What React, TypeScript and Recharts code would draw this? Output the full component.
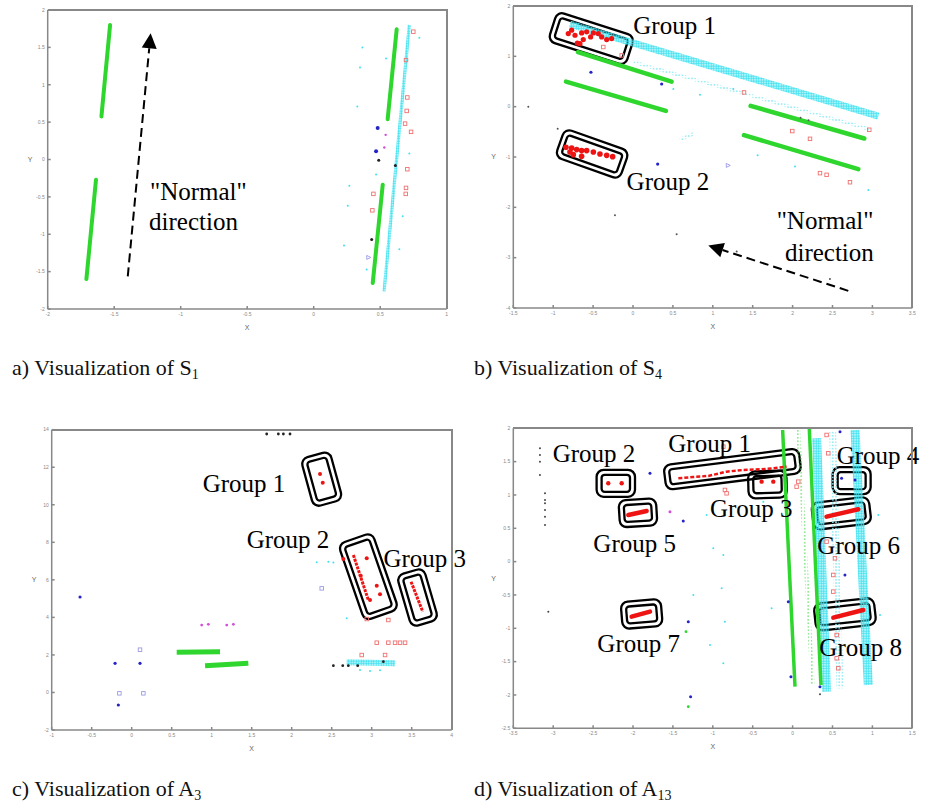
import React from 'react';
import { ScatterChart, Scatter, XAxis, YAxis, ReferenceLine, ReferenceDot } from 'recharts';

const SERIF = '"Liberation Serif", "Times New Roman", serif';
const SANS = '"Liberation Sans", Arial, sans-serif';
const GREEN = '#2ed62e';
const CYAN = '#3fe2f0';
const RED = '#ee1414';
const PALE_RED = '#f07070';
const BLUE = '#2424c8';
const BLACK = '#222';
const MAGENTA = '#d050d8';
const LILAC = '#9a9ae6';
const FRAME = '#888';
const Y_AXIS_W = 40;
const X_AXIS_H = 21;

// ---- a) S1 ----
const s1XTicks = [-2, -1.5, -1, -0.5, 0, 0.5, 1];
const s1YTicks = [-2, -1.5, -1, -0.5, 0, 0.5, 1, 1.5, 2];
const s1Green = [
  [[-1.531, 1.8], [-1.596, 0.575]],
  [[-1.637, -0.272], [-1.709, -1.599]],
  [[0.624, 1.742], [0.556, 0.539]],
  [[0.519, -0.338], [0.444, -1.653]],
];
const s1CyanBand = [[[0.719, 1.8], [0.529, -1.764]]];
const s1Cyan = [
  [0.366, 1.5], [0.348, 1.23], [0.328, 0.71], [0.268, -0.35], [0.256, -0.62], [0.228, -1.15],
  [0.544, 1.35], [0.644, -1.2], [0.794, 1.63], [0.669, -0.76], [0.469, -0.2], [0.398, -1.47], [0.719, 0.08],
];
const s1Red = [
  [0.749, 1.71], [0.694, 1.33], [0.704, 0.83], [0.699, 0.65], [0.687, 0.48], [0.732, 0.37],
  [0.704, -0.13], [0.694, -0.38], [0.692, -0.46], [0.449, -0.46], [0.441, -0.68],
];
const s1Blue = [[0.481, 0.42], [0.469, 0.11]];
const s1BlueTri = [[0.414, -1.31]];
const s1Black = [[0.436, -1.07], [0.489, -0.01], [0.614, -0.08]];
const s1Magenta = [[0.541, 0.33], [0.531, 0.16]];
const s1Arrow = [[-1.398, -1.563], [-1.226, 1.688]];
const s1Text = ['"Normal"', 'direction'];
const s1TextPos = [[-1.231, -0.539], [-1.238, -0.94]];

// ---- b) S4 ----
const s4XTicks = [-1.5, -1, -0.5, 0, 0.5, 1, 1.5, 2, 2.5, 3, 3.5];
const s4YTicks = [-4, -3, -2, -1, 0, 1, 2];
const s4Green = [
  [[-0.84, 0.497], [0.413, -0.085]],
  [[-0.69, 1.085], [0.484, 0.497]],
  [[1.474, 0.016], [2.898, -0.633]],
  [[1.391, -0.566], [2.823, -1.241]],
];
const s4CyanMain = [[[-0.79, 1.639], [3.074, -0.186]]];
const s4CyanThin = [
  [[0.004, 0.884], [2.97, -0.452]],
  [[0.589, -0.653], [0.756, -0.539]],
];
const s4Cyan = [
  [1.562, -0.967], [2.03, -1.187], [2.949, -1.655], [0.505, 0.35], [0.839, 0.236], [1.257, 0.35],
];
const s4Group1 = [
  [-0.811, 1.452], [-0.769, 1.519], [-0.727, 1.419], [-0.698, 1.265], [-0.644, 1.466], [-0.581, 1.486],
  [-0.531, 1.385], [-0.497, 1.466], [-0.435, 1.452], [-0.393, 1.385], [-0.33, 1.332], [-0.268, 1.352],
  [-0.623, 1.332], [-0.665, 1.252],
];
const s4Group2 = [
  [-0.84, -0.806], [-0.769, -0.82], [-0.706, -0.853], [-0.644, -0.873], [-0.581, -0.873], [-0.497, -0.9],
  [-0.414, -0.94], [-0.33, -0.967], [-0.255, -0.993], [-0.748, -0.953], [-0.644, -0.987], [-0.79, -0.9],
];
const s4Red = [
  [-0.372, 1.185], [-0.142, 1.018], [1.391, 0.283], [1.996, -0.485], [2.218, -0.639],
  [2.343, -1.321], [2.426, -1.354], [2.719, -1.501], [2.961, -0.459],
];
const s4Blue = [[-0.527, 0.684], [0.359, 0.45], [0.309, -1.14]];
const s4BlueTri = [[1.194, -1.167]];
const s4Black = [
  [-0.226, -2.156], [0.547, -2.537], [1.299, -2.877], [2.468, -3.425], [-0.944, -0.439], [-1.312, -0.004],
  [2.1, -0.22], [2.2, -0.27],
];
const s4Boxes = [
  [[-1.007, 1.599], [-0.038, 1.105]],
  [[-0.915, -0.713], [-0.109, -1.167]],
];
const s4Arrow = [[2.698, -3.659], [0.944, -2.757]];
const s4Text = ['Group 1', 'Group 2', '"Normal"', 'direction'];
const s4TextPos = [[0.004, 1.452], [-0.08, -1.655], [1.8, -2.423], [1.904, -3.058]];

// ---- c) A3 ----
const a3XTicks = [-1, -0.5, 0, 0.5, 1, 1.5, 2, 2.5, 3, 3.5, 4];
const a3YTicks = [-2, 0, 2, 4, 6, 8, 10, 12, 14];
const a3Green = [
  [[0.5625, 2.137], [1.104, 2.173]],
  [[0.917, 1.427], [1.458, 1.551]],
];
const a3CyanBand = [[[2.688, 1.604], [3.292, 1.55]]];
const a3Cyan = [[2.313, 6.932], [2.458, 6.968], [2.521, 6.93], [2.688, 3.948], [2.854, 1.2], [2.979, 1.15], [3.104, 1.18]];
const a3RedStreaks = [
  [[2.771, 7.323], [2.958, 4.925]],
  [[3.492, 5.902], [3.638, 4.304]],
];
const a3RedDots = [
  [2.354, 11.638], [2.388, 11.176], [2.938, 7.145], [2.863, 6.222], [3.063, 5.689], [3.104, 5.227],
  [2.979, 4.925], [2.646, 7.109],
];
const a3RedSquares = [
  [3.063, 2.652], [3.208, 2.652], [3.292, 2.652], [3.354, 2.652], [3.417, 2.652],
  [2.875, 1.995], [3.167, 1.995], [3.208, 3.86], [2.938, 3.913],
];
const a3Black = [[2.521, 1.427], [2.638, 1.427], [2.708, 1.427], [2.825, 1.427], [3.146, 1.64],
  [1.6875, 13.77], [1.833, 13.77], [1.896, 13.77], [1.979, 13.77]];
const a3Magenta = [[0.875, 3.593], [0.958, 3.629], [1.188, 3.593], [1.271, 3.629]];
const a3Blue = [[-0.646, 5.085], [-0.208, 1.551], [0.104, 1.551], [-0.167, -0.669]];
const a3Lilac = [[0.104, 2.279], [-0.154, -0.047], [0.146, -0.047], [2.375, 5.547]];
const a3Boxes = [
  [[2.292, 12.65], [2.458, 10.075]],
  [[2.792, 8.21], [3.125, 4.126]],
  [[3.479, 6.435], [3.667, 3.682]],
];
const a3BoxH = [30, 36, 28];
const a3Text = ['Group 1', 'Group 2', 'Group 3'];
const a3TextPos = [[0.8875, 10.697], [1.4375, 7.713], [3.146, 6.701]];

// ---- d) A13 ----
const a13XTicks = [-3.5, -3, -2.5, -2, -1.5, -1, -0.5, 0, 0.5, 1, 1.5];
const a13YTicks = [-2.5, -2, -1.5, -1, -0.5, 0, 0.5, 1, 1.5, 2];
const a13Green = [
  [[-0.125, 1.975], [0.03, -1.875]],
  [[0.209, 2], [0.355, -1.85]],
];
const a13GreenDotted = [[[0.071, 1.975], [0.251, -1.85]]];
const a13CyanBands = [
  [[0.301, 1.85], [0.426, -1.95]],
  [[0.782, 1.975], [0.949, -1.85]],
];
const a13CyanLight = [[[0.502, 1.95], [0.594, -1.9]]];
const a13Cyan = [
  [-1.077, 0.7], [-0.994, 0.2], [-0.868, 0.1], [-0.889, -0.4], [-0.848, -0.9], [-0.868, -1.525],
  [-1.035, -1.25], [-1.244, -0.5], [-0.263, -0.7], [-0.367, 0.9], [1.074, 0.7], [1.095, -0.8],
];
const a13RedStreaks = [
  [[-2.059, 0.7], [-1.829, 0.76]],
  [[0.426, 0.675], [0.823, 0.785]],
  [[-2.017, -0.825], [-1.787, -0.75]],
  [[0.51, -0.84], [0.886, -0.725]],
];
const a13RedLine = [[[-1.432, 1.25], [-1.244, 1.27], [-1.056, 1.285], [-0.827, 1.35], [-0.618, 1.375], [-0.409, 1.385], [-0.242, 1.4], [-0.075, 1.425]]];
const a13RedDots = [[-2.31, 1.175], [-2.142, 1.175], [-0.388, 1.2], [-0.242, 1.2]];
const a13RedSquares = [
  [0.51, -0.2], [0.51, -0.45], [0.531, 0.05], [0.552, -1.45], [0.573, -1.6], [0.426, 1.9], [0.447, 1.625],
  [-0.848, 1.075], [-0.827, 1.025], [0.071, 1.2], [0.05, 1.125], [0.426, 0.3], [0.552, -1.1], [-0.868, 1.725],
];
const a13Blue = [
  [-1.787, 1.325], [-1.37, 0.61], [-1.307, -0.9], [-1.278, -2.025], [-0.054, -0.6], [-0.021, -1.725],
  [0.656, -0.2], [0.594, 1.95], [0.343, -1.875], [0.614, 1.25], [0.782, 1.225],
];
const a13Magenta = [[-1.537, 0.75]];
const a13Black = [
  [-3.061, -0.75], [0.343, -1.99],
  [-3.166, 1.7], [-3.166, 1.6], [-3.166, 1.5], [-3.166, 1.3],
  [-3.103, 1.025], [-3.103, 0.925], [-3.103, 0.875], [-3.103, 0.775], [-3.103, 0.675], [-3.103, 0.55],
];
const a13GreenDots = [[-1.336, -1.05], [-1.307, -2.175]];
const a13Boxes = [
  [[-1.6, 1.26], [0.092, 1.515]],
  [[-2.456, 1.175], [-1.975, 1.175]],
  [[-0.555, 1.15], [-0.075, 1.165]],
  [[0.502, 1.215], [0.978, 1.215]],
  [[-2.172, 0.715], [-1.704, 0.75]],
  [[0.251, 0.675], [0.97, 0.775]],
  [[-2.142, -0.81], [-1.641, -0.76]],
  [[0.28, -0.84], [1.032, -0.74]],
];
const a13Text = ['Group 1', 'Group 2', 'Group 3', 'Group 4', 'Group 5', 'Group 6', 'Group 7', 'Group 8'];
const a13TextPos = [
  [-1.558, 1.65], [-3.007, 1.5], [-1.036, 0.675], [0.552, 1.46],
  [-2.497, 0.14], [0.31, 0.11], [-2.447, -1.36], [0.335, -1.41],
];

// ---- helpers ----
const pts = (a: number[][]) => a.map(([x, y]) => ({ x, y }));
const noShape = () => <g />;

const dot = (fill: string, r: number) => (p: any) => <circle cx={p.cx} cy={p.cy} r={r} fill={fill} />;
const square = (stroke: string, s: number) => (p: any) => (
  <rect x={p.cx - s / 2} y={p.cy - s / 2} width={s} height={s} fill="none" stroke={stroke} strokeWidth={0.9} />
);
const tri = (stroke: string, s: number) => (p: any) => (
  <path
    d={`M${p.cx - s / 2},${p.cy - s / 2}L${p.cx + s / 2},${p.cy}L${p.cx - s / 2},${p.cy + s / 2}Z`}
    fill="none"
    stroke={stroke}
    strokeWidth={0.9}
  />
);

const marks = (key: string, data: number[][], shape: any) => (
  <Scatter key={key} data={pts(data)} shape={shape} isAnimationActive={false} />
);

const lines = (key: string, segs: number[][][], line: any) =>
  segs.map((s, i) => (
    <Scatter
      key={`${key}${i}`}
      data={pts(s)}
      shape={noShape}
      line={{ strokeLinecap: 'butt', ...line }}
      lineType="joint"
      isAnimationActive={false}
    />
  ));

const boxShape = (h: number) => (p: any) => {
  const dx = p.x2 - p.x1;
  const dy = p.y2 - p.y1;
  const len = Math.hypot(dx, dy);
  const ang = (Math.atan2(dy, dx) * 180) / Math.PI;
  return (
    <g transform={`translate(${(p.x1 + p.x2) / 2},${(p.y1 + p.y2) / 2}) rotate(${ang})`}>
      <rect x={-len / 2} y={-h / 2} width={len} height={h} rx={7} fill="none" stroke="#000" strokeWidth={2.3} />
      <rect x={-len / 2 + 5} y={-h / 2 + 5} width={len - 10} height={h - 10} rx={3} fill="none" stroke="#000" strokeWidth={2.3} />
    </g>
  );
};

const arrowShape = (p: any) => {
  const dx = p.x2 - p.x1;
  const dy = p.y2 - p.y1;
  const len = Math.hypot(dx, dy);
  const ux = dx / len;
  const uy = dy / len;
  const hl = 15;
  const hw = 7.5;
  const bx = p.x2 - ux * hl;
  const by = p.y2 - uy * hl;
  return (
    <g>
      <line x1={p.x1} y1={p.y1} x2={bx} y2={by} stroke="#000" strokeWidth={2} strokeDasharray="9 5" />
      <path d={`M${p.x2},${p.y2}L${bx - uy * hw},${by + ux * hw}L${bx + uy * hw},${by - ux * hw}Z`} fill="#000" />
    </g>
  );
};

const textShape = (txt: string) => (p: any) => (
  <text x={p.cx} y={p.cy} fontFamily={SERIF} fontSize={25} fill="#000">
    {txt}
  </text>
);

const boxes = (segs: number[][][], hs: number[]) =>
  segs.map((s, i) => (
    <ReferenceLine
      key={`box${i}`}
      segment={[{ x: s[0][0], y: s[0][1] }, { x: s[1][0], y: s[1][1] }]}
      ifOverflow="visible"
      shape={boxShape(hs[i])}
    />
  ));

const arrow = (s: number[][]) => (
  <ReferenceLine
    key="arrow"
    segment={[{ x: s[0][0], y: s[0][1] }, { x: s[1][0], y: s[1][1] }]}
    ifOverflow="visible"
    shape={arrowShape}
  />
);

const texts = (labels: string[], pos: number[][]) =>
  labels.map((t, i) => (
    <ReferenceDot key={`t${i}`} x={pos[i][0]} y={pos[i][1]} r={0} ifOverflow="visible" shape={textShape(t)} />
  ));

const fmt = (v: number) => String(v);

// dotted paint used for the speckled cyan / green bands
function Patterns() {
  return (
    <svg width={0} height={0} style={{ position: 'absolute' }}>
      <defs>
        <pattern id="cyanDots" patternUnits="userSpaceOnUse" width={2.5} height={2.5}>
          <circle cx={1.25} cy={1.25} r={1.15} fill={CYAN} />
        </pattern>
        <pattern id="cyanLight" patternUnits="userSpaceOnUse" width={3.2} height={3.2}>
          <circle cx={1.6} cy={1.6} r={0.9} fill="#8ceaf4" />
        </pattern>
        <pattern id="greenDots" patternUnits="userSpaceOnUse" width={3.5} height={3.5}>
          <circle cx={1.75} cy={1.75} r={0.8} fill="#66dd66" />
        </pattern>
      </defs>
    </svg>
  );
}

function Panel({ left, top, width, height, margin, xDomain, xTicks, yDomain, yTicks, yLabelOffset, children }: any) {
  const tick = { fontSize: 5, fill: '#888', fontFamily: SANS };
  // plot box, from the margins and the axis sizes, for the top/right frame lines
  const plotLeft = Math.round(margin.left + Y_AXIS_W);
  const plotTop = Math.round(margin.top);
  const plotRight = Math.round(width - margin.right);
  const plotBottom = Math.round(height - margin.bottom - X_AXIS_H);
  return (
    <div style={{ position: 'absolute', left, top, width, height }}>
      <ScatterChart width={width} height={height} margin={margin}>
        <XAxis
          type="number"
          dataKey="x"
          domain={xDomain}
          ticks={xTicks}
          interval={0}
          allowDataOverflow
          tickFormatter={fmt}
          tickSize={-3}
          tickMargin={6}
          height={X_AXIS_H}
          stroke={FRAME}
          strokeWidth={1.5}
          tick={tick}
          label={{ value: 'X', position: 'insideBottom', offset: 0, fontSize: 7, fill: '#666', fontFamily: SANS }}
        />
        <YAxis
          type="number"
          dataKey="y"
          domain={yDomain}
          ticks={yTicks}
          interval={0}
          allowDataOverflow
          tickFormatter={fmt}
          tickSize={-3}
          tickMargin={6}
          width={Y_AXIS_W}
          stroke={FRAME}
          strokeWidth={1.5}
          tick={tick}
          label={{ value: 'Y', position: 'insideLeft', offset: yLabelOffset, fontSize: 7, fill: '#666', fontFamily: SANS }}
        />
        {children}
      </ScatterChart>
      <div
        style={{
          position: 'absolute',
          left: plotLeft,
          top: plotTop - 1,
          width: plotRight - plotLeft + 1,
          height: plotBottom - plotTop + 1,
          borderTop: `2px solid ${FRAME}`,
          borderRight: `2px solid ${FRAME}`,
          boxSizing: 'border-box',
          pointerEvents: 'none',
          zIndex: 2,
        }}
      />
    </div>
  );
}

function Caption({ left, top, label, name, sub }: any) {
  return (
    <div style={{ position: 'absolute', left, top, fontFamily: SERIF, fontSize: 22, lineHeight: '22px', whiteSpace: 'nowrap', color: '#111' }}>
      {label} Visualization of {name}
      <span style={{ fontSize: 14, verticalAlign: '-4px' }}>{sub}</span>
    </div>
  );
}

export default function App() {
  return (
    <div style={{ position: 'absolute', left: 0, top: 0, width: 927, height: 805, background: '#fff', overflow: 'hidden' }}>
      <Patterns />
      <Panel
        left={0}
        top={0}
        width={470}
        height={340}
        margin={{ top: 10, left: 7.7, right: 23.3, bottom: 10 }}
        xDomain={[-2, 1]}
        xTicks={s1XTicks}
        yDomain={[-2, 2]}
        yTicks={s1YTicks}
        yLabelOffset={20}
      >
        {lines('s1g', s1Green, { stroke: GREEN, strokeWidth: 4, strokeLinecap: 'round' })}
        {lines('s1c', s1CyanBand, { stroke: 'url(#cyanDots)', strokeWidth: 3.2 })}
        {marks('s1cd', s1Cyan, dot(CYAN, 1))}
        {marks('s1r', s1Red, square(PALE_RED, 3.5))}
        {marks('s1b', s1Blue, dot(BLUE, 2))}
        {marks('s1bt', s1BlueTri, tri(LILAC, 4))}
        {marks('s1k', s1Black, dot(BLACK, 1.5))}
        {marks('s1m', s1Magenta, dot(MAGENTA, 1.2))}
        {arrow(s1Arrow)}
        {texts(s1Text, s1TextPos)}
      </Panel>

      <Panel
        left={460}
        top={0}
        width={467}
        height={340}
        margin={{ top: 6, left: 13.3, right: 14.7, bottom: 11 }}
        xDomain={[-1.5, 3.5]}
        xTicks={s4XTicks}
        yDomain={[-4, 2]}
        yTicks={s4YTicks}
        yLabelOffset={18}
      >
        {lines('s4g', s4Green, { stroke: GREEN, strokeWidth: 4.5, strokeLinecap: 'round' })}
        {lines('s4cm', s4CyanMain, { stroke: 'url(#cyanDots)', strokeWidth: 7 })}
        {lines('s4ct', s4CyanThin, { stroke: 'url(#cyanLight)', strokeWidth: 3.5 })}
        {marks('s4cd', s4Cyan, dot(CYAN, 1))}
        {marks('s4g1', s4Group1, dot(RED, 2.6))}
        {marks('s4g2', s4Group2, dot(RED, 2.8))}
        {marks('s4r', s4Red, square(PALE_RED, 3.5))}
        {marks('s4b', s4Blue, dot(BLUE, 1.6))}
        {marks('s4bt', s4BlueTri, tri(LILAC, 4))}
        {marks('s4k', s4Black, dot('#555', 1))}
        {boxes(s4Boxes, [31, 30])}
        {arrow(s4Arrow)}
        {texts(s4Text, s4TextPos)}
      </Panel>

      <Panel
        left={0}
        top={415}
        width={470}
        height={345}
        margin={{ top: 14.7, left: 11.7, right: 18.3, bottom: 9 }}
        xDomain={[-1, 4]}
        xTicks={a3XTicks}
        yDomain={[-2, 14]}
        yTicks={a3YTicks}
        yLabelOffset={20}
      >
        {lines('a3g', a3Green, { stroke: GREEN, strokeWidth: 5 })}
        {lines('a3c', a3CyanBand, { stroke: 'url(#cyanDots)', strokeWidth: 6 })}
        {marks('a3cd', a3Cyan, dot(CYAN, 1))}
        {lines('a3rs', a3RedStreaks, { stroke: RED, strokeWidth: 3, strokeDasharray: '3 1' })}
        {marks('a3rd', a3RedDots, dot(RED, 2))}
        {marks('a3rq', a3RedSquares, square(PALE_RED, 3.5))}
        {marks('a3k', a3Black, dot(BLACK, 1.4))}
        {marks('a3m', a3Magenta, dot(MAGENTA, 1.4))}
        {marks('a3b', a3Blue, dot(BLUE, 1.6))}
        {marks('a3l', a3Lilac, square(LILAC, 3.5))}
        {boxes(a3Boxes, a3BoxH)}
        {texts(a3Text, a3TextPos)}
      </Panel>

      <Panel
        left={460}
        top={415}
        width={467}
        height={345}
        margin={{ top: 13.3, left: 13.3, right: 14.7, bottom: 10.7 }}
        xDomain={[-3.5, 1.5]}
        xTicks={a13XTicks}
        yDomain={[-2.5, 2]}
        yTicks={a13YTicks}
        yLabelOffset={18}
      >
        {lines('a13cl', a13CyanLight, { stroke: 'url(#cyanLight)', strokeWidth: 7 })}
        {lines('a13cb', a13CyanBands, { stroke: 'url(#cyanDots)', strokeWidth: 9 })}
        {lines('a13gd', a13GreenDotted, { stroke: 'url(#greenDots)', strokeWidth: 4 })}
        {lines('a13g', a13Green, { stroke: GREEN, strokeWidth: 3.5 })}
        {marks('a13cd', a13Cyan, dot(CYAN, 1))}
        {marks('a13rq', a13RedSquares, square(PALE_RED, 3.5))}
        {lines('a13rl', a13RedLine, { stroke: RED, strokeWidth: 2.5, strokeDasharray: '4 2' })}
        {lines('a13rs', a13RedStreaks, { stroke: RED, strokeWidth: 4.5, strokeLinecap: 'round' })}
        {marks('a13rd', a13RedDots, dot(RED, 2.2))}
        {marks('a13b', a13Blue, dot(BLUE, 1.5))}
        {marks('a13m', a13Magenta, dot(MAGENTA, 1.5))}
        {marks('a13k', a13Black, dot('#444', 1))}
        {marks('a13gdt', a13GreenDots, dot(GREEN, 1.4))}
        {boxes(a13Boxes, [25, 27, 27, 27, 27, 27, 27, 27])}
        {texts(a13Text, a13TextPos)}
      </Panel>

      <Caption left={12} top={357} label="a)" name="S" sub="1" />
      <Caption left={474} top={357} label="b)" name="S" sub="4" />
      <Caption left={12} top={778} label="c)" name="A" sub="3" />
      <Caption left={474} top={778} label="d)" name="A" sub="13" />
    </div>
  );
}
